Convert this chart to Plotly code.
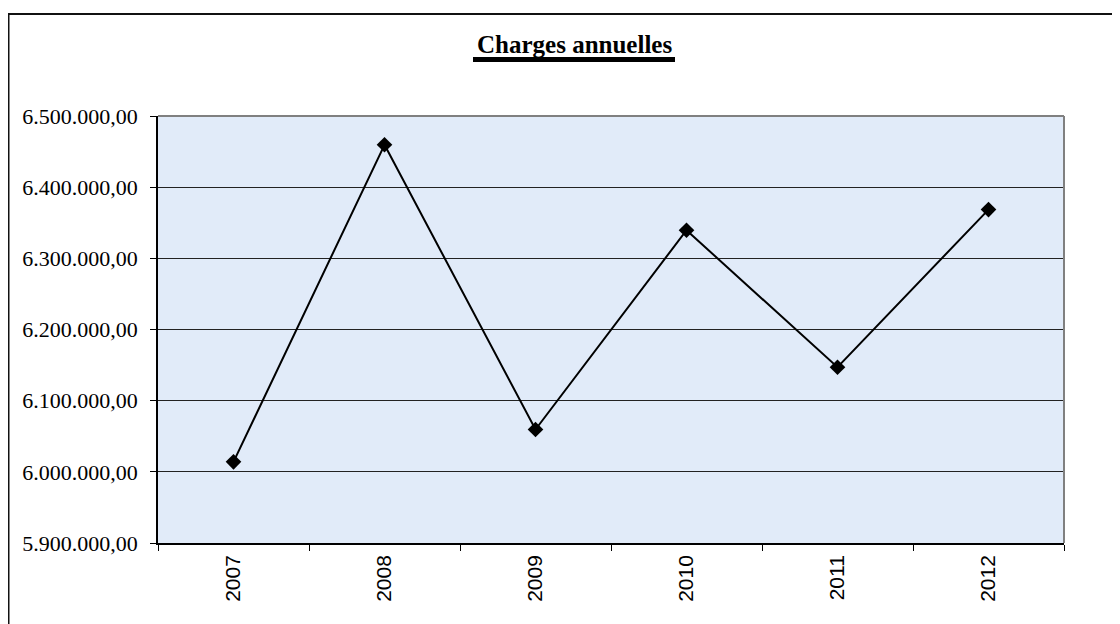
import plotly.graph_objects as go

years = ["2007", "2008", "2009", "2010", "2011", "2012"]
charges = [6014000, 6459500, 6059500, 6339500, 6147000, 6368500]
y_ticks = [5900000, 6000000, 6100000, 6200000, 6300000, 6400000, 6500000]
y_labels = ["5.900.000,00", "6.000.000,00", "6.100.000,00", "6.200.000,00",
            "6.300.000,00", "6.400.000,00", "6.500.000,00"]

# page coords of plot area
PX0, PX1, PY0, PY1 = 158, 1064, 115.5, 543
OFF = 8  # body margin of html page
W, H = 1120, 624
L, T = PX0 - OFF, PY0 - OFF
pw, ph = PX1 - PX0, PY1 - PY0
R, B = W - L - pw, H - T - ph

def px(x):
    return (x - PX0) / pw

def py(y):
    return (PY1 - y) / ph

fig = go.Figure()
fig.add_trace(go.Scatter(
    x=years, y=charges, mode="lines+markers",
    line=dict(color="black", width=2),
    marker=dict(symbol="diamond", size=12, color="black"),
    showlegend=False, hoverinfo="skip"
))

fig.update_layout(
    width=W, height=H,
    margin=dict(l=L, r=R, t=T, b=B, pad=0),
    paper_bgcolor="white",
    plot_bgcolor="#e1ebf9",
    xaxis=dict(
        type="category", tickson="boundaries",
        ticks="outside", ticklen=6, tickcolor="black", tickwidth=1,
        showline=True, linecolor="black", linewidth=1.5,
        showgrid=False, tickangle=-90, ticklabelstandoff=2,
        tickfont=dict(family="Liberation Sans, Arial", size=21, color="black"),
        range=[-0.5, 5.5],
    ),
    yaxis=dict(
        range=[5900000, 6500000], tickvals=y_ticks, ticktext=y_labels,
        ticks="outside", ticklen=6, tickcolor="black", tickwidth=1,
        showline=True, linecolor="black", linewidth=1.5,
        showgrid=True, gridcolor="#222222", gridwidth=1,
        zeroline=False, ticklabelstandoff=8,
        tickfont=dict(family="Liberation Serif, Times New Roman", size=22, color="black"),
    ),
    annotations=[dict(
        text="<b>Charges annuelles</b>", x=px(574), y=py(44),
        xref="paper", yref="paper", showarrow=False,
        xanchor="center", yanchor="middle",
        font=dict(family="Liberation Serif, Times New Roman", size=25, color="black"),
    )],
    shapes=[
        # outer frame
        dict(type="rect", xref="paper", yref="paper",
             x0=px(8.5), x1=px(1135), y0=py(13.5), y1=py(645),
             line=dict(color="#111111", width=2), layer="below"),
        # plot top/right border (grey)
        dict(type="line", xref="paper", yref="paper", x0=0, x1=1, y0=1, y1=1,
             line=dict(color="#808080", width=2)),
        dict(type="line", xref="paper", yref="paper", x0=1, x1=1, y0=0, y1=1,
             line=dict(color="#808080", width=2)),
        # title underline
        dict(type="line", xref="paper", yref="paper",
             x0=px(473), x1=px(675), y0=py(59), y1=py(59),
             line=dict(color="black", width=5)),
    ],
)

fig.write_html("out.html")
